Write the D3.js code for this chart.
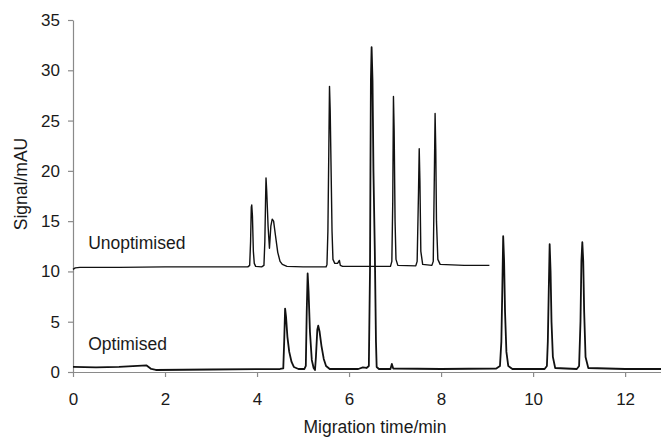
<!DOCTYPE html>
<html>
<head>
<meta charset="utf-8">
<script src="https://cdn.jsdelivr.net/npm/d3@7"></script>
<style>
html,body{margin:0;padding:0;background:#fff;}
svg{display:block;}
text{font-family:"Liberation Sans",Arial,sans-serif;fill:#1a1a1a;}
</style>
</head>
<body>
<svg id="chart" width="661" height="438"></svg>
<script>
// Tick values
const xTicks = [0, 2, 4, 6, 8, 10, 12];
const yTicks = [0, 5, 10, 15, 20, 25, 30, 35];

// Series: [migration time (min), signal (mAU)]
const unoptimised = [
  [0,10.2],[0.05,10.35],[0.15,10.4],[1,10.4],[2,10.45],[3,10.45],[3.8,10.45],
  [3.84,10.6],[3.86,13],[3.875,16.4],[3.885,16.6],[3.9,15.5],[3.92,12],[3.94,10.8],[3.97,10.5],
  [4.1,10.45],[4.15,10.6],[4.17,13],[4.185,17],[4.195,19.3],[4.21,18],[4.24,14.5],[4.27,12.3],
  [4.3,14.5],[4.33,15.2],[4.36,15.0],[4.4,13.6],[4.45,11.9],[4.5,11.0],[4.55,10.7],[4.65,10.5],
  [5.0,10.45],[5.5,10.45],[5.52,10.7],[5.54,14],[5.56,22],[5.575,28.4],[5.59,26],[5.61,20],
  [5.63,14],[5.65,11.2],[5.69,10.8],[5.75,10.8],[5.79,11.1],[5.81,10.6],[5.86,10.5],
  [6.9,10.5],[6.93,11],[6.95,17],[6.965,27.4],[6.98,24],[7.0,15],[7.02,11.2],[7.06,10.6],
  [7.45,10.55],[7.48,11],[7.51,18],[7.525,22.2],[7.54,19],[7.56,12],[7.6,10.7],
  [7.8,10.6],[7.83,11],[7.855,20],[7.87,25.7],[7.885,22],[7.9,15],[7.93,11.2],[7.98,10.7],
  [8.5,10.6],[9.05,10.6]
];

const optimised = [
  [0,0.5],[0.5,0.45],[1.0,0.5],[1.4,0.6],[1.6,0.65],[1.7,0.3],[1.8,0.2],[3,0.25],[4.5,0.3],
  [4.57,0.35],[4.59,3],[4.61,6.3],[4.63,5.5],[4.66,3.5],[4.7,2],[4.75,1],[4.8,0.5],[4.9,0.3],
  [5.03,0.3],[5.06,0.6],[5.08,6],[5.1,9.8],[5.12,8],[5.15,4],[5.19,1.2],[5.23,0.4],[5.26,0.2],
  [5.28,1.5],[5.31,4.2],[5.33,4.6],[5.36,4],[5.4,2.6],[5.45,1.3],[5.5,0.6],[5.58,0.3],
  [6.2,0.3],[6.3,0.45],[6.38,0.4],[6.43,0.6],[6.455,10],[6.465,20],[6.475,29],[6.49,32.3],
  [6.51,29],[6.53,20],[6.56,12],[6.585,3],[6.6,0.5],[6.65,0.3],
  [6.9,0.3],[6.93,0.8],[6.96,0.35],[8,0.3],[9.2,0.35],
  [9.28,0.6],[9.31,3],[9.33,8],[9.35,13.5],[9.37,11],[9.39,6],[9.42,2],[9.46,0.6],[9.55,0.3],
  [10.25,0.3],[10.3,0.6],[10.32,3],[10.34,8],[10.36,12.7],[10.38,10],[10.4,5],[10.43,1.5],[10.48,0.4],
  [10.95,0.3],[11.0,0.6],[11.03,5],[11.05,11],[11.07,12.9],[11.09,11],[11.11,6],[11.14,1.5],[11.2,0.4],
  [12,0.3],[12.8,0.3]
];

const seriesLabels = ["Unoptimised", "Optimised"];
const labelAnchors = [[0.33, 12.25], [0.33, 2.2]];

const svg = d3.select("#chart");
const W = 661;

const x = d3.scaleLinear().domain([0, 12.78]).range([73, W]);
const y = d3.scaleLinear().domain([0, 35]).range([372, 20]);

const axisColor = "#8a8a8a";

// X axis
const xAxis = svg.append("g").attr("transform", `translate(0,${y(0)})`)
  .call(d3.axisBottom(x).tickValues(xTicks).tickFormat(d3.format("d")).tickSize(5).tickSizeOuter(0));
xAxis.select(".domain").attr("stroke", axisColor).attr("stroke-width", 1.2);
xAxis.selectAll(".tick line").attr("stroke", axisColor).attr("stroke-width", 1.2);
xAxis.selectAll(".tick text").attr("font-size", 17).attr("dy", "0").attr("y", 33)
  .style("font-family", "Liberation Sans, Arial, sans-serif").attr("fill", "#1a1a1a");

// Y axis
const yAxis = svg.append("g").attr("transform", `translate(${x(0)},0)`)
  .call(d3.axisLeft(y).tickValues(yTicks).tickFormat(d3.format("d")).tickSize(5).tickSizeOuter(0));
yAxis.select(".domain").attr("stroke", axisColor).attr("stroke-width", 1.2);
yAxis.selectAll(".tick line").attr("stroke", axisColor).attr("stroke-width", 1.2);
yAxis.selectAll(".tick text").attr("font-size", 17).attr("x", -13)
  .style("font-family", "Liberation Sans, Arial, sans-serif").attr("fill", "#1a1a1a");

// Axis titles
svg.append("text").attr("x", 375).attr("y", 433).attr("text-anchor", "middle")
  .attr("font-size", 17.5).text("Migration time/min");
svg.append("text").attr("transform", "translate(27,184) rotate(-90)").attr("text-anchor", "middle")
  .attr("font-size", 17.5).text("Signal/mAU");

// Lines
const line = d3.line().x(d => x(d[0])).y(d => y(d[1]));
svg.append("path").datum(unoptimised).attr("d", line)
  .attr("fill", "none").attr("stroke", "#111").attr("stroke-width", 1.4).attr("stroke-linejoin", "round");
svg.append("path").datum(optimised).attr("d", line)
  .attr("fill", "none").attr("stroke", "#111").attr("stroke-width", 1.8).attr("stroke-linejoin", "round");

// Series labels
seriesLabels.forEach((t, i) => {
  svg.append("text").attr("x", x(labelAnchors[i][0])).attr("y", y(labelAnchors[i][1]))
    .attr("font-size", 17.5).text(t);
});
</script>
</body>
</html>
